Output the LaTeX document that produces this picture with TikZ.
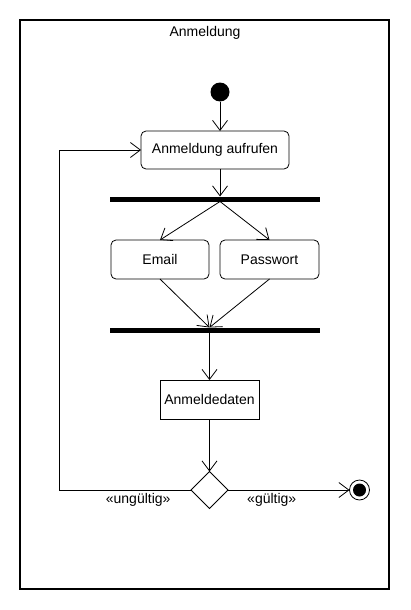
\documentclass[tikz,border=0pt]{standalone}
\usepackage{fontspec}
\setmainfont{Liberation Sans}
\usetikzlibrary{positioning, shapes.geometric, arrows.meta}
\tikzset{
	every node/.append style={
		font=\fontsize{14}{16}\selectfont,
		outer sep=0mm,
	},
	action/.append style={
		draw,
		align = center,
		rounded corners=5pt,
		inner sep=0mm,
		minimum height=38,
	},
	datenbox/.append style={
		draw,
		inner sep=0mm,
		minimum width=99,
		minimum height=39,
	},
	bar/.append style={
		fill=black,
		inner sep=0mm,
		minimum width=210,
		minimum height=5,
	},
	decision/.append style={
		draw,
		diamond,
		inner sep=0mm,
		minimum width=37,
		minimum height=37,
	},
	startnode/.append style={
		circle,
		fill=black,
		inner sep=0mm,
		minimum size=19,
	},
	endnode/.append style={
		circle,
		draw,
		inner sep=0mm,
		minimum size=20,
		path picture={\fill (path picture bounding box.center) circle (6.5pt);}
	},
	labe/.append style={
		inner sep=3pt,
	}
}

\begin{document}
\begin{tikzpicture}[x=1pt, y=-1pt, line width=0.8pt, >={Straight Barb[length=10pt,width=15pt]}]
	\useasboundingbox (0,0) rectangle (410,610);
	
	\node (frame)[draw, line width=1.3pt, inner sep=0mm, minimum width=369, minimum height=569] at (204.5,304.5) {};
	\node (title) at (205,33) {Anmeldung};
	
	\node (start)[startnode] at (220,92) {};
	\node (aufrufen)[action, minimum width=148, below=29.5pt of start, xshift=-5pt]{Anmeldung aufrufen};
	\node (gabel)[bar, below=27.5pt of aufrufen]{};
	
	\node (email)[action, minimum width=98, minimum height=39, below=38.5pt of gabel, xshift=-55pt]{Email};
	\node (passwort)[action, minimum width=99, minimum height=39, below=38.5pt of gabel, xshift=54.5pt]{Passwort};
	\node (join)[bar, below=48.5pt of email, xshift=55pt]{};
	
	\node (daten)[datenbox, below=47.5pt of join, xshift=-5.5pt]{Anmeldedaten};
	\node (check)[decision, below=52.5pt of daten]{};
	\node (ende)[endnode, right=121.5pt of check]{};
	\coordinate (back) at ([xshift=-132pt]check.west);
	
	\draw[->](start) to (start |- aufrufen.north);
	\draw[->](start |- aufrufen.south) to (start |- gabel.north);
	\draw[->](start |- gabel.south) to (email.north);
	\draw[->](start |- gabel.south) to (passwort.north);
	\draw[->](email.south) to (daten |- join.north);
	\draw[->](passwort.south) to (daten |- join.north);
	\draw[->](daten |- join.south) to (daten.north);
	\draw[->](daten) to (check);
	
	\draw[->](check) to node[labe, below, pos=0.36]{«gültig»} (ende);
	\draw[->](check.west) to node[labe, below, pos=0.4]{«ungültig»} (back) |- (aufrufen.west);
	
\end{tikzpicture}
\end{document}
